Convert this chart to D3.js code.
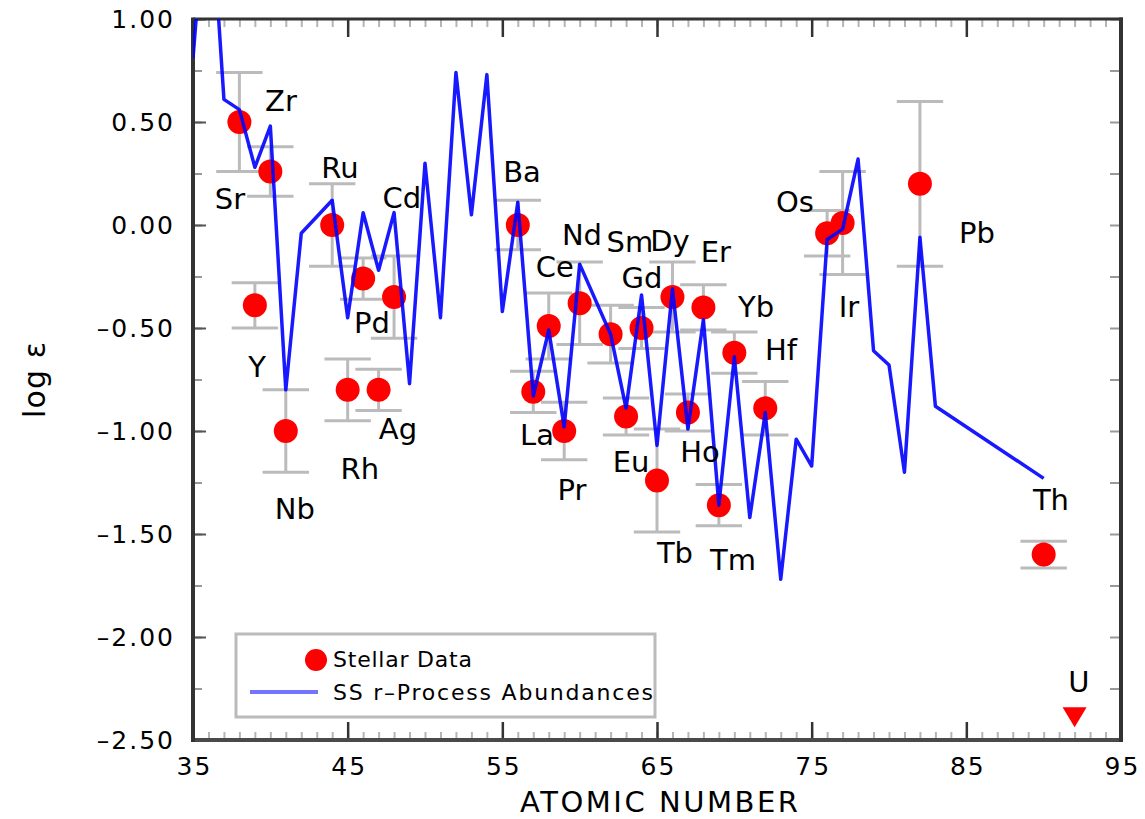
<!DOCTYPE html>
<html>
<head>
<meta charset="utf-8">
<script src="https://cdn.jsdelivr.net/npm/d3@7/dist/d3.min.js"></script>
<style>
  html, body { margin: 0; padding: 0; background: #fff; }
  svg { display: block; }
</style>
</head>
<body>
<div id="chart"></div>
<script>
// solar system r-process curve
const ssZ = [35, 36, 37, 38, 39, 40, 41, 42, 44, 45, 46, 47, 48, 49, 50, 51, 52, 53, 54, 55,
  56, 57, 58, 59, 60, 62, 63, 64, 65, 66, 67, 68, 69, 70, 71, 72, 73, 74, 75, 76, 77, 78,
  79, 80, 81, 82, 83, 90];
const ssLog = [0.81, 1.75, 0.61, 0.56, 0.28, 0.48, -0.80, -0.04, 0.12, -0.45, 0.06, -0.22,
  0.06, -0.77, 0.30, -0.45, 0.74, 0.05, 0.73, -0.42, 0.11, -0.83, -0.51, -0.98, -0.19,
  -0.53, -0.89, -0.34, -1.07, -0.31, -0.99, -0.46, -1.36, -0.64, -1.42, -0.91, -1.72,
  -1.04, -1.17, -0.07, -0.02, 0.32, -0.61, -0.68, -1.20, -0.06, -0.88, -1.23];

// stellar abundances with errors
const starZ = [38, 39, 40, 41, 44, 45, 46, 47, 48, 56, 57, 58, 59, 60, 62, 63, 64, 65, 66,
  67, 68, 69, 70, 72, 76, 77, 82, 90];
const starLog = [0.50, -0.39, 0.26, -1.00, 0.00, -0.80, -0.26, -0.80, -0.35, 0.00, -0.81,
  -0.49, -1.00, -0.38, -0.53, -0.93, -0.50, -1.24, -0.35, -0.91, -0.40, -1.36, -0.62,
  -0.89, -0.04, 0.01, 0.20, -1.60];
const starErr = [0.24, 0.11, 0.12, 0.20, 0.20, 0.15, 0.10, 0.10, 0.20, 0.12, 0.10, 0.16,
  0.14, 0.20, 0.14, 0.09, 0.10, 0.25, 0.17, 0.09, 0.11, 0.10, 0.10, 0.13, 0.11, 0.25,
  0.40, 0.065];

// upper limit
const limitZ = [92];
const limitLog = [-2.38];

// element labels (position in data units)
const labelText = ['Sr', 'Y', 'Zr', 'Nb', 'Ru', 'Rh', 'Pd', 'Ag', 'Cd', 'Ba', 'La', 'Ce',
  'Nd', 'Sm', 'Dy', 'Er', 'Gd', 'Yb', 'Hf', 'Eu', 'Pr', 'Ho', 'Tb', 'Tm', 'Os', 'Ir', 'Pb',
  'Th', 'U'];
const labelZ = [37.39, 39.14, 40.69, 41.59, 44.50, 45.79, 46.57, 48.25, 48.51, 56.27, 57.24,
  58.40, 60.15, 63.25, 65.84, 68.81, 64.03, 71.40, 73.02, 63.32, 59.50, 67.78, 66.16, 69.91,
  73.92, 77.41, 85.69, 90.47, 92.28];
const labelLog = [0.078, -0.738, 0.553, -1.427, 0.228, -1.233, -0.524, -1.039, 0.083, 0.209,
  -1.068, -0.252, -0.097, -0.131, -0.126, -0.180, -0.306, -0.447, -0.655, -1.199, -1.335,
  -1.150, -1.641, -1.675, 0.063, -0.447, -0.087, -1.383, -2.267];

const xTicks = [35, 45, 55, 65, 75, 85, 95];
const yTicks = [1.0, 0.5, 0.0, -0.5, -1.0, -1.5, -2.0, -2.5];
const legendItems = ['Stellar Data', 'SS r\u2013Process Abundances'];

const width = 1145;
const height = 819;
const plot = { left: 193, right: 1121, top: 19, bottom: 740 };
const font = '"DejaVu Sans", sans-serif';

const x = d3.scaleLinear().domain([35, 95]).range([plot.left, plot.right]);
const y = d3.scaleLinear().domain([-2.5, 1]).range([plot.bottom, plot.top]);

const svg = d3.select('#chart').append('svg')
  .attr('width', width)
  .attr('height', height)
  .style('font-family', font);

svg.append('defs').append('clipPath').attr('id', 'clip')
  .append('rect')
  .attr('x', plot.left).attr('y', plot.top)
  .attr('width', plot.right - plot.left).attr('height', plot.bottom - plot.top);

const fmtY = v => (v < 0 ? '\u2013' : '') + Math.abs(v).toFixed(2);
const minorX = d3.range(35, 96, 1);
const minorY = d3.range(-2.5, 1.01, 0.25);

// ticks (all pointing inward)
const styleAxis = (g, color, w) => {
  g.select('.domain').remove();
  g.selectAll('line').attr('stroke', color).attr('stroke-width', w);
};

svg.append('g').attr('transform', `translate(0,${plot.bottom})`)
  .call(d3.axisBottom(x).tickValues(minorX).tickSize(-8).tickFormat(''))
  .call(g => styleAxis(g, '#b5b5b5', 2));
svg.append('g').attr('transform', `translate(0,${plot.top})`)
  .call(d3.axisTop(x).tickValues(minorX).tickSize(-8).tickFormat(''))
  .call(g => styleAxis(g, '#b5b5b5', 2));

const xAxis = svg.append('g').attr('transform', `translate(0,${plot.bottom})`)
  .call(d3.axisBottom(x).tickValues(xTicks).tickSize(-18).tickPadding(17).tickFormat(d3.format('d')))
  .call(g => styleAxis(g, '#333', 2.5));
xAxis.selectAll('text')
  .attr('font-family', font).attr('font-size', 25).attr('fill', '#000')
  .attr('letter-spacing', 2).attr('dx', 1).attr('dy', '0.71em');

svg.append('g').attr('transform', `translate(0,${plot.top})`)
  .call(d3.axisTop(x).tickValues(xTicks).tickSize(-18).tickFormat(''))
  .call(g => styleAxis(g, '#333', 2.5));

svg.append('g').attr('transform', `translate(${plot.left},0)`)
  .call(d3.axisLeft(y).tickValues(minorY).tickSize(-9).tickFormat(''))
  .call(g => styleAxis(g, '#999', 2));
const yAxis = svg.append('g').attr('transform', `translate(${plot.left},0)`)
  .call(d3.axisLeft(y).tickValues(yTicks).tickSize(-13).tickPadding(18).tickFormat(fmtY))
  .call(g => styleAxis(g, '#555', 2));
yAxis.selectAll('text')
  .attr('font-family', font).attr('font-size', 25).attr('fill', '#000')
  .attr('letter-spacing', 2);

svg.append('g').attr('transform', `translate(${plot.right},0)`)
  .call(d3.axisRight(y).tickValues(minorY).tickSize(-11).tickFormat(''))
  .call(g => styleAxis(g, '#999', 2));

// frame
const frame = svg.append('g').attr('stroke', '#333').attr('fill', 'none');
frame.append('line').attr('x1', plot.left).attr('x2', plot.right + 2)
  .attr('y1', plot.top).attr('y2', plot.top).attr('stroke-width', 3);
frame.append('line').attr('x1', plot.left).attr('x2', plot.right + 2)
  .attr('y1', plot.bottom).attr('y2', plot.bottom).attr('stroke-width', 4).attr('stroke', '#4a4a4a');
frame.append('line').attr('x1', plot.left).attr('x2', plot.left)
  .attr('y1', plot.top - 1.5).attr('y2', plot.bottom + 2).attr('stroke-width', 4);
frame.append('line').attr('x1', plot.right).attr('x2', plot.right)
  .attr('y1', plot.top - 1.5).attr('y2', plot.bottom + 2).attr('stroke-width', 4);

// error bars
const stars = starZ.map((z, i) => ({ z, v: starLog[i], e: starErr[i] }));
const capHalf = 1.5;
const err = svg.append('g').attr('stroke', '#bbb').attr('stroke-width', 3).attr('fill', 'none');
stars.forEach((d) => {
  err.append('line').attr('x1', x(d.z)).attr('x2', x(d.z))
    .attr('y1', y(d.v + d.e)).attr('y2', y(d.v - d.e));
  [d.v + d.e, d.v - d.e].forEach((v) => {
    err.append('line').attr('x1', x(d.z - capHalf)).attr('x2', x(d.z + capHalf))
      .attr('y1', y(v)).attr('y2', y(v));
  });
});

svg.append('g').attr('fill', '#ff0000')
  .selectAll('circle').data(stars).join('circle')
  .attr('cx', d => x(d.z))
  .attr('cy', d => y(d.v))
  .attr('r', 12);

svg.append('g').attr('fill', '#ff0000')
  .selectAll('path').data(limitZ).join('path')
  .attr('d', (z, i) => {
    const cx = x(z);
    const cy = y(limitLog[i]);
    return `M${cx - 12},${cy - 8}L${cx + 12},${cy - 8}L${cx},${cy + 12}Z`;
  });

// r-process curve
const line = d3.line().x(d => x(d[0])).y(d => y(d[1]));
svg.append('path')
  .datum(ssZ.map((z, i) => [z, ssLog[i]]))
  .attr('clip-path', 'url(#clip)')
  .attr('fill', 'none')
  .attr('stroke', '#0000ff')
  .attr('stroke-opacity', 0.9)
  .attr('stroke-width', 3.5)
  .attr('stroke-linejoin', 'round')
  .attr('d', line);

// element labels
svg.append('g')
  .attr('font-size', 29)
  .attr('text-anchor', 'middle')
  .selectAll('text').data(labelText).join('text')
  .attr('x', (d, i) => x(labelZ[i]))
  .attr('y', (d, i) => y(labelLog[i]))
  .text(d => d);

// legend
const legend = svg.append('g');
legend.append('rect')
  .attr('x', 236).attr('y', 634).attr('width', 419).attr('height', 83)
  .attr('fill', '#fff').attr('stroke', '#bbb').attr('stroke-width', 3);
legend.append('circle').attr('cx', 316).attr('cy', 660).attr('r', 11).attr('fill', '#ff0000');
legend.append('line').attr('x1', 250).attr('x2', 318).attr('y1', 692).attr('y2', 692)
  .attr('stroke', '#7474ff').attr('stroke-width', 4);
legend.selectAll('text').data(legendItems).join('text')
  .attr('x', 333)
  .attr('y', (d, i) => 667 + i * 33)
  .attr('font-size', 22)
  .attr('textLength', (d, i) => (i === 0 ? 139 : 320))
  .attr('lengthAdjust', 'spacing')
  .text(d => d);

// axis titles
svg.append('text')
  .attr('x', 659).attr('y', 812)
  .attr('text-anchor', 'middle')
  .attr('font-size', 29)
  .attr('textLength', 278)
  .attr('lengthAdjust', 'spacing')
  .text('ATOMIC NUMBER');

svg.append('text')
  .attr('transform', 'translate(45,380) rotate(-90)')
  .attr('text-anchor', 'middle')
  .attr('font-size', 30)
  .attr('textLength', 76)
  .attr('lengthAdjust', 'spacing')
  .text('log \u03b5');
</script>
</body>
</html>
